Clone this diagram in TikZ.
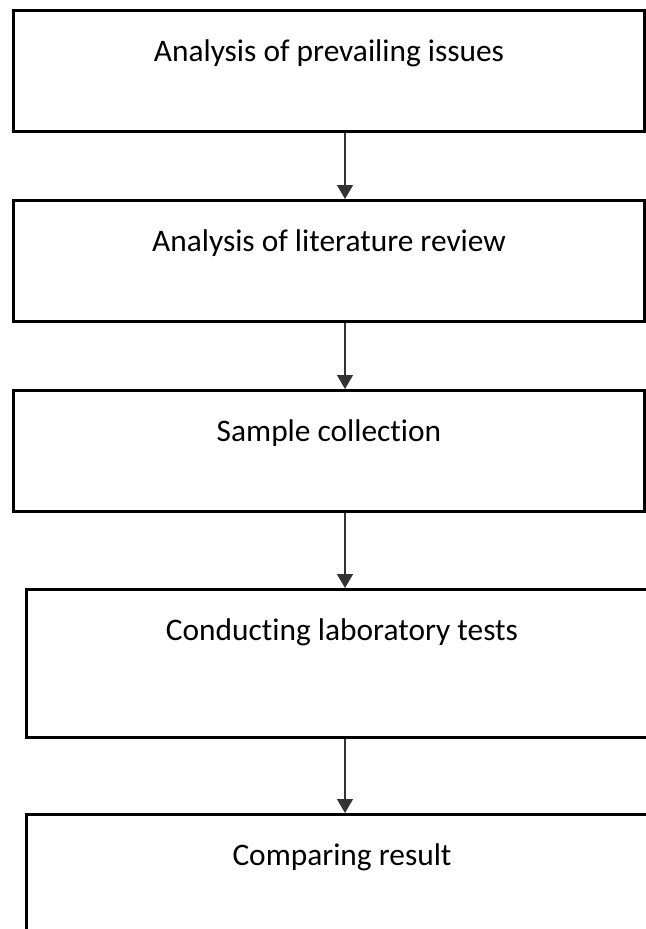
\documentclass[tikz,border=0pt]{standalone}
\usepackage{fontspec}
\setmainfont{Carlito}[Ligatures=NoCommon]
\usepackage{tikz}
\usetikzlibrary{arrows.meta, positioning}

\begin{document}
\begin{tikzpicture}[
    x=1bp, y=1bp,
    node distance=66bp,
    langkah/.style={draw, line width=3bp, inner sep=0pt, minimum width=630bp,
                    text height=51bp, text depth=70bp, font=\fontsize{31.5}{36}\selectfont},
    panah/.style={-{Triangle[length=14bp, width=16bp]}, line width=1.5bp, draw=black!80}
  ]
    \useasboundingbox (0,0) rectangle (646,-929);
    \coordinate (poros) at (345,0);
    \node[langkah, anchor=north] (isu) at (329,-9) {Analysis of prevailing issues};
    \node[langkah, below=of isu] (pustaka) {Analysis of literature review};
    \node[langkah, below=of pustaka] (sampel) {Sample collection};
    \node[langkah, text depth=97bp, below=75bp of sampel, xshift=13bp] (uji) {Conducting laboratory tests};
    \node[langkah, below=74bp of uji] (banding) {Comparing result};
    \draw[panah] (isu.south -| poros) -- (pustaka.north -| poros);
    \draw[panah] (pustaka.south -| poros) -- (sampel.north -| poros);
    \draw[panah] (sampel.south -| poros) -- (uji.north -| poros);
    \draw[panah] (uji.south -| poros) -- (banding.north -| poros);
  \end{tikzpicture}
\end{document}
